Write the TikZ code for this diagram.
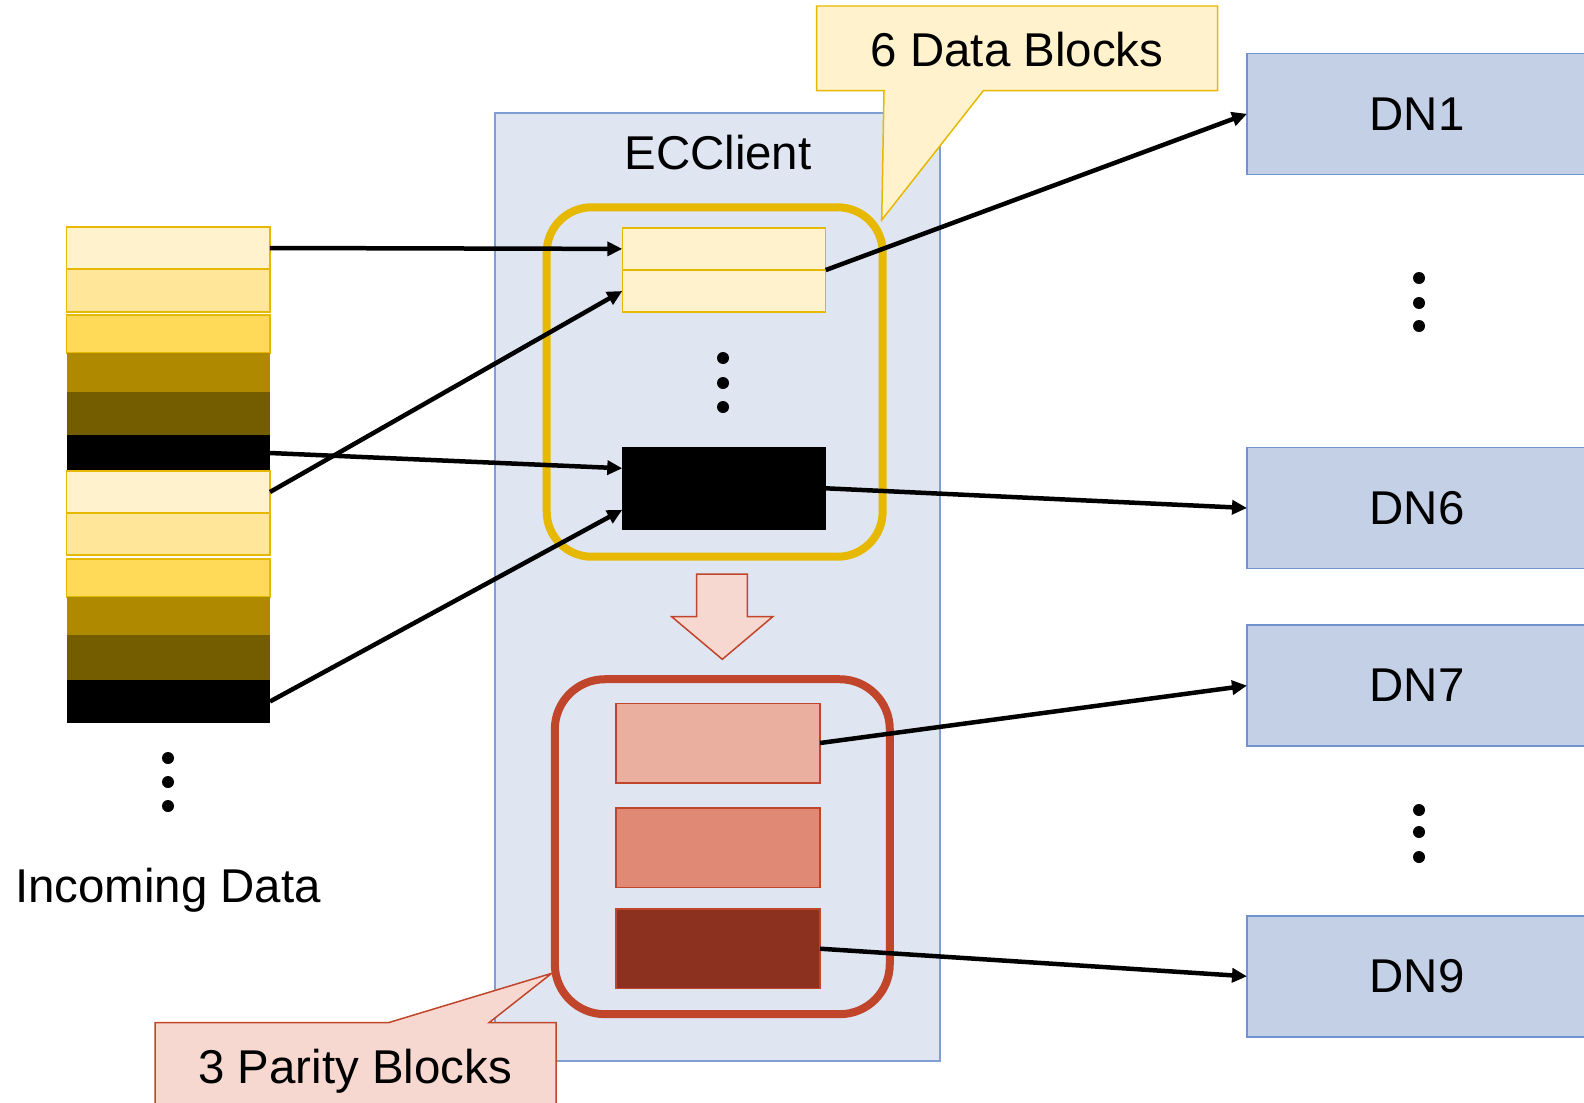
\documentclass[tikz,border=0pt]{standalone}
\usepackage{fontspec}
\setmainfont{Liberation Sans}
\usepackage{tikz}
\usetikzlibrary{arrows.meta,positioning,calc}

\definecolor{cream}{HTML}{FFF2CC}
\definecolor{lightgold}{HTML}{FFE699}
\definecolor{gold}{HTML}{FFD957}
\definecolor{darkgold}{HTML}{AF8A00}
\definecolor{olive}{HTML}{745C00}
\definecolor{goldline}{HTML}{E6B800}
\definecolor{ecfill}{HTML}{DFE6F2}
\definecolor{ecline}{HTML}{7F9FD4}
\definecolor{dnfill}{HTML}{C4D0E6}
\definecolor{dnline}{HTML}{7092CF}
\definecolor{redline}{HTML}{C0452A}
\definecolor{pinkfill}{HTML}{F6D8D0}
\definecolor{parA}{HTML}{EBAFA0}
\definecolor{parB}{HTML}{E08A75}
\definecolor{parC}{HTML}{8C3120}

\begin{document}
\begin{tikzpicture}[
  x=0.02cm, y=-0.02cm,
  font=\fontsize{27}{32}\selectfont,
  cell/.style={minimum width=4.07cm, inner sep=0pt, outer sep=0pt,
    line width=0.03cm},
  block/.style={minimum width=4.07cm, inner sep=0pt, outer sep=0pt,
    line width=0.03cm},
  dn/.style={draw=dnline, fill=dnfill, minimum width=6.8cm,
    minimum height=2.42cm, line width=0.03cm, outer sep=0pt, anchor=west},
  frame/.style={rounded corners=0.9cm, line width=0.16cm,
    inner sep=0pt, outer sep=0pt},
  flow/.style={-{Triangle[length=0.3cm,width=0.28cm]}, line width=0.09cm},
]
  \useasboundingbox (0,0) rectangle (1584,1102);

  % ECClient box
  \node[draw=ecline, fill=ecfill, line width=0.03cm, minimum width=8.9cm,
    minimum height=18.96cm, inner sep=0pt] (ecc) at (717.5,587) {};
  \node (ecclbl) at (718,153) {ECClient};

  % Incoming data stripes
  \foreach \t/\b/\col/\edg [count=\i] in {
      227/269/cream/goldline, 269/312/lightgold/goldline,
      315/353/gold/goldline, 353/392/darkgold/none,
      392/435/olive/none, 435/471/black/none,
      471/513/cream/goldline, 513/555/lightgold/goldline,
      559/597/gold/goldline, 597/635/darkgold/none,
      635/680/olive/none, 680/723/black/none}{
    \node[cell, fill=\col, draw=\edg, minimum height={(\b-\t)*0.02cm}]
      (s\i) at (168.25,{(\t+\b)/2}) {};
  }
  \foreach \y in {758,782,806}{
    \fill (168,\y) circle (0.12cm);
  }
  \node[anchor=base] (inlbl) at (168,902) {Incoming Data};

  % Data blocks
  \node[block, fill=cream, draw=goldline, minimum height=0.846cm]
    (d1) at (724,248.9) {};
  \node[block, fill=cream, draw=goldline, minimum height=0.84cm]
    (d2) at (724,291) {};
  \node[block, fill=black, minimum height=1.67cm] (blk) at (724,488.3) {};
  \foreach \y in {358,383,407}{
    \fill (723,\y) circle (0.12cm);
  }
  \node[frame, draw=goldline, minimum width=6.72cm, minimum height=6.99cm]
    (dframe) at (714.7,382) {};

  % Encode arrow
  \draw[fill=pinkfill, draw=redline, line width=0.03cm]
    (696.7,574) -- (747.3,574) -- (747.3,616.7) -- (772.7,616.7)
    -- (722.3,659.3) -- (671.7,616.7) -- (696.7,616.7) -- cycle;

  % Parity blocks
  \foreach \y/\col [count=\i] in {743/parA, 847.5/parB, 948.7/parC}{
    \node[block, fill=\col, draw=redline, minimum width=4.08cm,
      minimum height=1.59cm] (p\i) at (718,\y) {};
  }
  \node[frame, draw=redline, rounded corners=1cm, minimum width=6.7cm,
    minimum height=6.7cm] (pframe) at (722.3,846.7) {};

  % DataNodes
  \node[dn] (dn1) at (1247,113.8) {DN1};
  \node[dn] (dn6) at (1247,508) {DN6};
  \node[dn] (dn7) at (1247,685.6) {DN7};
  \node[dn] (dn9) at (1247,976.3) {DN9};
  \foreach \y in {278,303,326,810,832,857}{
    \fill (1419,\y) circle (0.12cm);
  }

  % Callouts
  \draw[fill=cream, draw=goldline, line width=0.03cm]
    (816.7,6) -- (1217.7,6) -- (1217.7,90.7) -- (983.3,90.7)
    -- (881.7,220) -- (884,90.7) -- (816.7,90.7) -- cycle;
  \node (datalbl) at (1017,50) {6 Data Blocks};
  \draw[fill=pinkfill, draw=redline, line width=0.03cm]
    (155,1022.7) -- (388.3,1022.7) -- (551.7,973.3) -- (489,1022.7)
    -- (556,1022.7) -- (556,1115) -- (155,1115) -- cycle;
  \node[anchor=base] (parlbl) at (355,1083) {3 Parity Blocks};

  % Striping
  \draw[flow] (s1.east) -- (d1.west);
  \draw[flow] (s7.east) -- (d2.west);
  \draw[flow] (s6.east) -- ([yshift=0.4cm]blk.west);
  \draw[flow] (s12.east) -- ([yshift=-0.43cm]blk.west);
  % To DataNodes
  \draw[flow] (d1.south east) -- (dn1.west);
  \draw[flow] (blk.east) -- (dn6.west);
  \draw[flow] (p1.east) -- (dn7.west);
  \draw[flow] (p3.east) -- (dn9.west);
\end{tikzpicture}
\end{document}
